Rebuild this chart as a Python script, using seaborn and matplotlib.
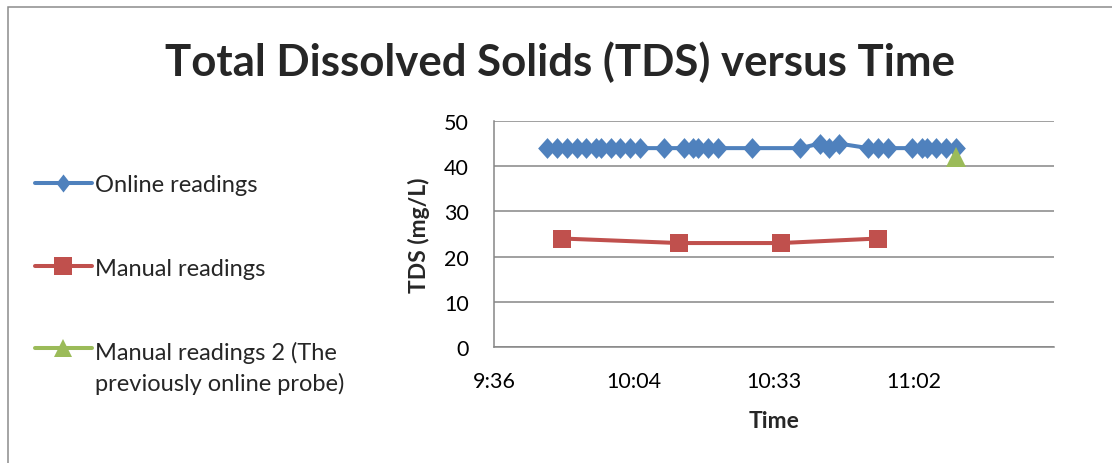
import numpy as np
import matplotlib
matplotlib.use("Agg")
import matplotlib.pyplot as plt
from matplotlib.lines import Line2D
from matplotlib.patches import Rectangle
from matplotlib.ticker import FixedLocator, FuncFormatter
import seaborn as sns

# ---- data -------------------------------------------------------------
online_times = ["9:47", "9:49", "9:51", "9:53", "9:55", "9:57", "9:58", "10:00",
                "10:02", "10:04", "10:06", "10:11", "10:15", "10:17", "10:18",
                "10:20", "10:22", "10:29", "10:39", "10:43", "10:45", "10:47",
                "10:53", "10:55", "10:57", "11:02", "11:04", "11:05", "11:07",
                "11:09", "11:11"]
online_tds = [44, 44, 44, 44, 44, 44, 44, 44, 44, 44, 44, 44, 44, 44, 44, 44,
              44, 44, 44, 45, 44, 45, 44, 44, 44, 44, 44, 44, 44, 44, 44]

manual_times = ["9:50", "10:14", "10:35", "10:55"]
manual_tds = [24, 23, 23, 24]

manual2_times = ["11:11"]
manual2_tds = [42]

series_labels = ["Online readings", "Manual readings",
                 "Manual readings 2 (The\npreviously online probe)"]
x_tick_days = [0.40, 0.42, 0.44, 0.46]
y_ticks = [0, 10, 20, 30, 40, 50]


def to_day_fraction(hhmm):
    h, m = hhmm.split(":")
    return (int(h) * 60 + int(m)) / 1440.0


def day_to_label(d, _pos=None):
    minutes = d * 1440.0 + 1e-6
    h = int(minutes // 60)
    m = int(minutes - h * 60)
    return f"{h}:{m:02d}"


# ---- style ------------------------------------------------------------
sns.set_theme(style="white")
plt.rcParams["font.family"] = ["Lato", "DejaVu Sans"]

BLUE = "#4F81BD"
RED = "#C0504D"
GREEN = "#9BBB59"
GRID = "#868686"

W, H = 1112, 464
fig = plt.figure(figsize=(W / 100, H / 100), dpi=100)
fig.patch.set_facecolor("white")

# chart frame
fig.add_artist(Rectangle((8 / W, -0.5), 2.0, 1.5 - 8 / H, transform=fig.transFigure,
                         fill=False, edgecolor="#8c8c8c", lw=1.1))

ax = fig.add_axes([494 / W, (H - 348) / H, (1054 - 494) / W, (348 - 122) / H])

LW = 2.9
diamond = [(0, 1), (0.9, 0), (0, -1), (-0.9, 0), (0, 1)]
diamond_key = [(0, 1), (0.78, 0), (0, -1), (-0.78, 0), (0, 1)]
DIAMOND_MS = 15
SQUARE_MS = 13.5
TRI_MS = 14.5

sns.lineplot(x=[to_day_fraction(t) for t in online_times], y=online_tds, ax=ax,
             color=BLUE, lw=LW, marker=diamond, markersize=DIAMOND_MS, markeredgewidth=0,
             markerfacecolor=BLUE, zorder=3)
sns.lineplot(x=[to_day_fraction(t) for t in manual_times], y=manual_tds, ax=ax,
             color=RED, lw=LW, marker="s", markersize=SQUARE_MS, markeredgewidth=0,
             markerfacecolor=RED, zorder=3)
sns.lineplot(x=[to_day_fraction(t) for t in manual2_times], y=manual2_tds, ax=ax,
             color=GREEN, lw=LW, marker="^", markersize=TRI_MS, markeredgewidth=0,
             markerfacecolor=GREEN, zorder=4)

ax.set_xlim(0.40, 0.48)
ax.set_ylim(0, 50)
ax.xaxis.set_major_locator(FixedLocator(x_tick_days))
ax.xaxis.set_major_formatter(FuncFormatter(day_to_label))
ax.set_yticks(y_ticks)

for s in ["top", "right"]:
    ax.spines[s].set_visible(False)
for s in ["left", "bottom"]:
    ax.spines[s].set_color(GRID)
    ax.spines[s].set_linewidth(1.1)
ax.yaxis.grid(True, color=GRID, lw=1.1)
ax.xaxis.grid(False)
ax.set_axisbelow(True)

ax.tick_params(axis="both", which="major", direction="out", length=6, width=1.1,
               color=GRID, labelsize=15.5, labelcolor="black")
ax.tick_params(axis="y", pad=12)
ax.tick_params(axis="x", pad=11)

ax.set_xlabel("Time", fontsize=16.5, fontweight="bold", labelpad=14)
ax.set_ylabel("TDS (mg/L)", fontsize=16.5, fontweight="bold", labelpad=10)

fig.text(560 / W, 1 - 62 / H, "Total Dissolved Solids (TDS) versus Time",
         ha="center", va="center", fontsize=31.5, fontweight="bold")

# legend placed to the left of the plot area
LINE_GAP = 34  # px between wrapped label lines
legend_rows = [(184, BLUE, diamond_key, 13), (267, RED, "s", 12.3), (349, GREEN, "^", 13)]
for (yp, col, mk, ms), lab in zip(legend_rows, series_labels):
    yf = 1 - yp / H
    fig.add_artist(Line2D([35 / W, 63 / W, 92 / W], [yf, yf, yf], transform=fig.transFigure,
                          color=col, lw=LW, marker=mk, markersize=ms, markeredgewidth=0,
                          markevery=[1], solid_capstyle="round"))
    n_extra = lab.count("\n")
    base_px = yp + 8.5 + LINE_GAP * n_extra
    fig.text(95 / W, 1 - base_px / H, lab, ha="left", va="baseline",
             fontsize=17, linespacing=1.54, transform=fig.transFigure)

fig.savefig("out.png", dpi=100)
